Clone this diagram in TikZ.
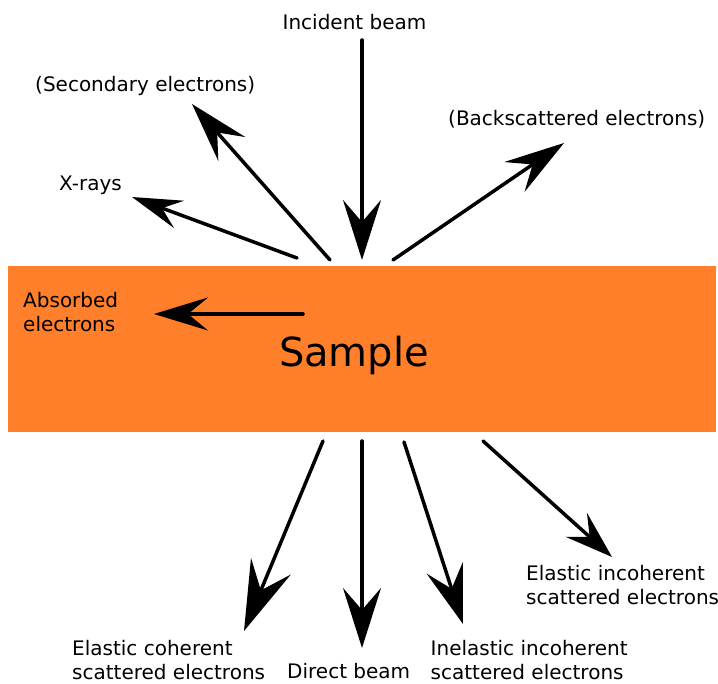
\documentclass[tikz,border=0pt]{standalone}
\usepackage{fontspec}
\setmainfont{DejaVu Sans}
\usetikzlibrary{arrows.meta}
\definecolor{sampleorange}{HTML}{FF7F2A}
\begin{document}
\begin{tikzpicture}[x=1pt,y=-1pt,
  lbl/.style={inner sep=0pt,font=\fontsize{20pt}{24.5pt}\selectfont},
  mlbl/.style={lbl,align=left,anchor=north west},
  ray/.style={line width=3.5pt,line cap=round,-{Stealth[length=#1]}},
  ray/.default={60pt,width=38pt,inset=22pt}]
\useasboundingbox (0,0) rectangle (718,684);
\node[fill=sampleorange,draw=none,minimum width=708pt,minimum height=166pt,inner sep=0pt,anchor=north west] (sample) at (8,266) {};
\node[lbl,font=\fontsize{40pt}{48pt}\selectfont,anchor=base] (samplelbl) at (354,367) {Sample};
% labels
\node[lbl,anchor=base] (incident) at (354.5,30) {Incident beam};
\node[lbl,anchor=base west] (secondary) at (35,92) {(Secondary electrons)};
\node[lbl,anchor=base west] (xrays) at (59,191) {X-rays};
\node[lbl,anchor=base west] (backsc) at (448,126) {(Backscattered electrons)};
\node[mlbl] (absorbed) at (23,292) {Absorbed\\electrons};
\node[mlbl] (elcoh) at (72,640) {Elastic coherent\\scattered electrons};
\node[lbl,anchor=base west] (direct) at (287,678.5) {Direct beam};
\node[mlbl] (inel) at (430.5,640) {Inelastic incoherent\\scattered electrons};
\node[mlbl] (elinc) at (526,565) {Elastic incoherent\\scattered electrons};
% coordinates
\coordinate (incS) at (362,40);   \coordinate (incE) at (362,260);
\coordinate (secS) at (330,260);  \coordinate (secE) at (192,104);
\coordinate (xrS) at (297,258);   \coordinate (xrE) at (132,197);
\coordinate (bsS) at (393,260);   \coordinate (bsE) at (564,143);
\coordinate (abS) at (303,314);   \coordinate (abE) at (154,314);
\coordinate (ecS) at (323,441);   \coordinate (ecE) at (244,631);
\coordinate (dbS) at (362,441);   \coordinate (dbE) at (362,648);
\coordinate (inS) at (404,442);   \coordinate (inE) at (463,624);
\coordinate (eiS) at (483,441);   \coordinate (eiE) at (612,557);
% arrows
\draw[ray] (incS) -- (incE);
\draw[ray={60pt,width=36pt,inset=22pt}] (secS) -- (secE);
\draw[ray={50pt,width=29pt,inset=18pt}] (xrS) -- (xrE);
\draw[ray={60pt,width=36pt,inset=22pt}] (bsS) -- (bsE);
\draw[ray={54pt,width=33pt,inset=20pt}] (abS) -- (abE);
\draw[ray={70pt,width=43pt,inset=26pt}] (ecS) -- (ecE);
\draw[ray] (dbS) -- (dbE);
\draw[ray={59pt,width=38pt,inset=22pt}] (inS) -- (inE);
\draw[ray={48pt,width=32pt,inset=18pt}] (eiS) -- (eiE);
\end{tikzpicture}
\end{document}
